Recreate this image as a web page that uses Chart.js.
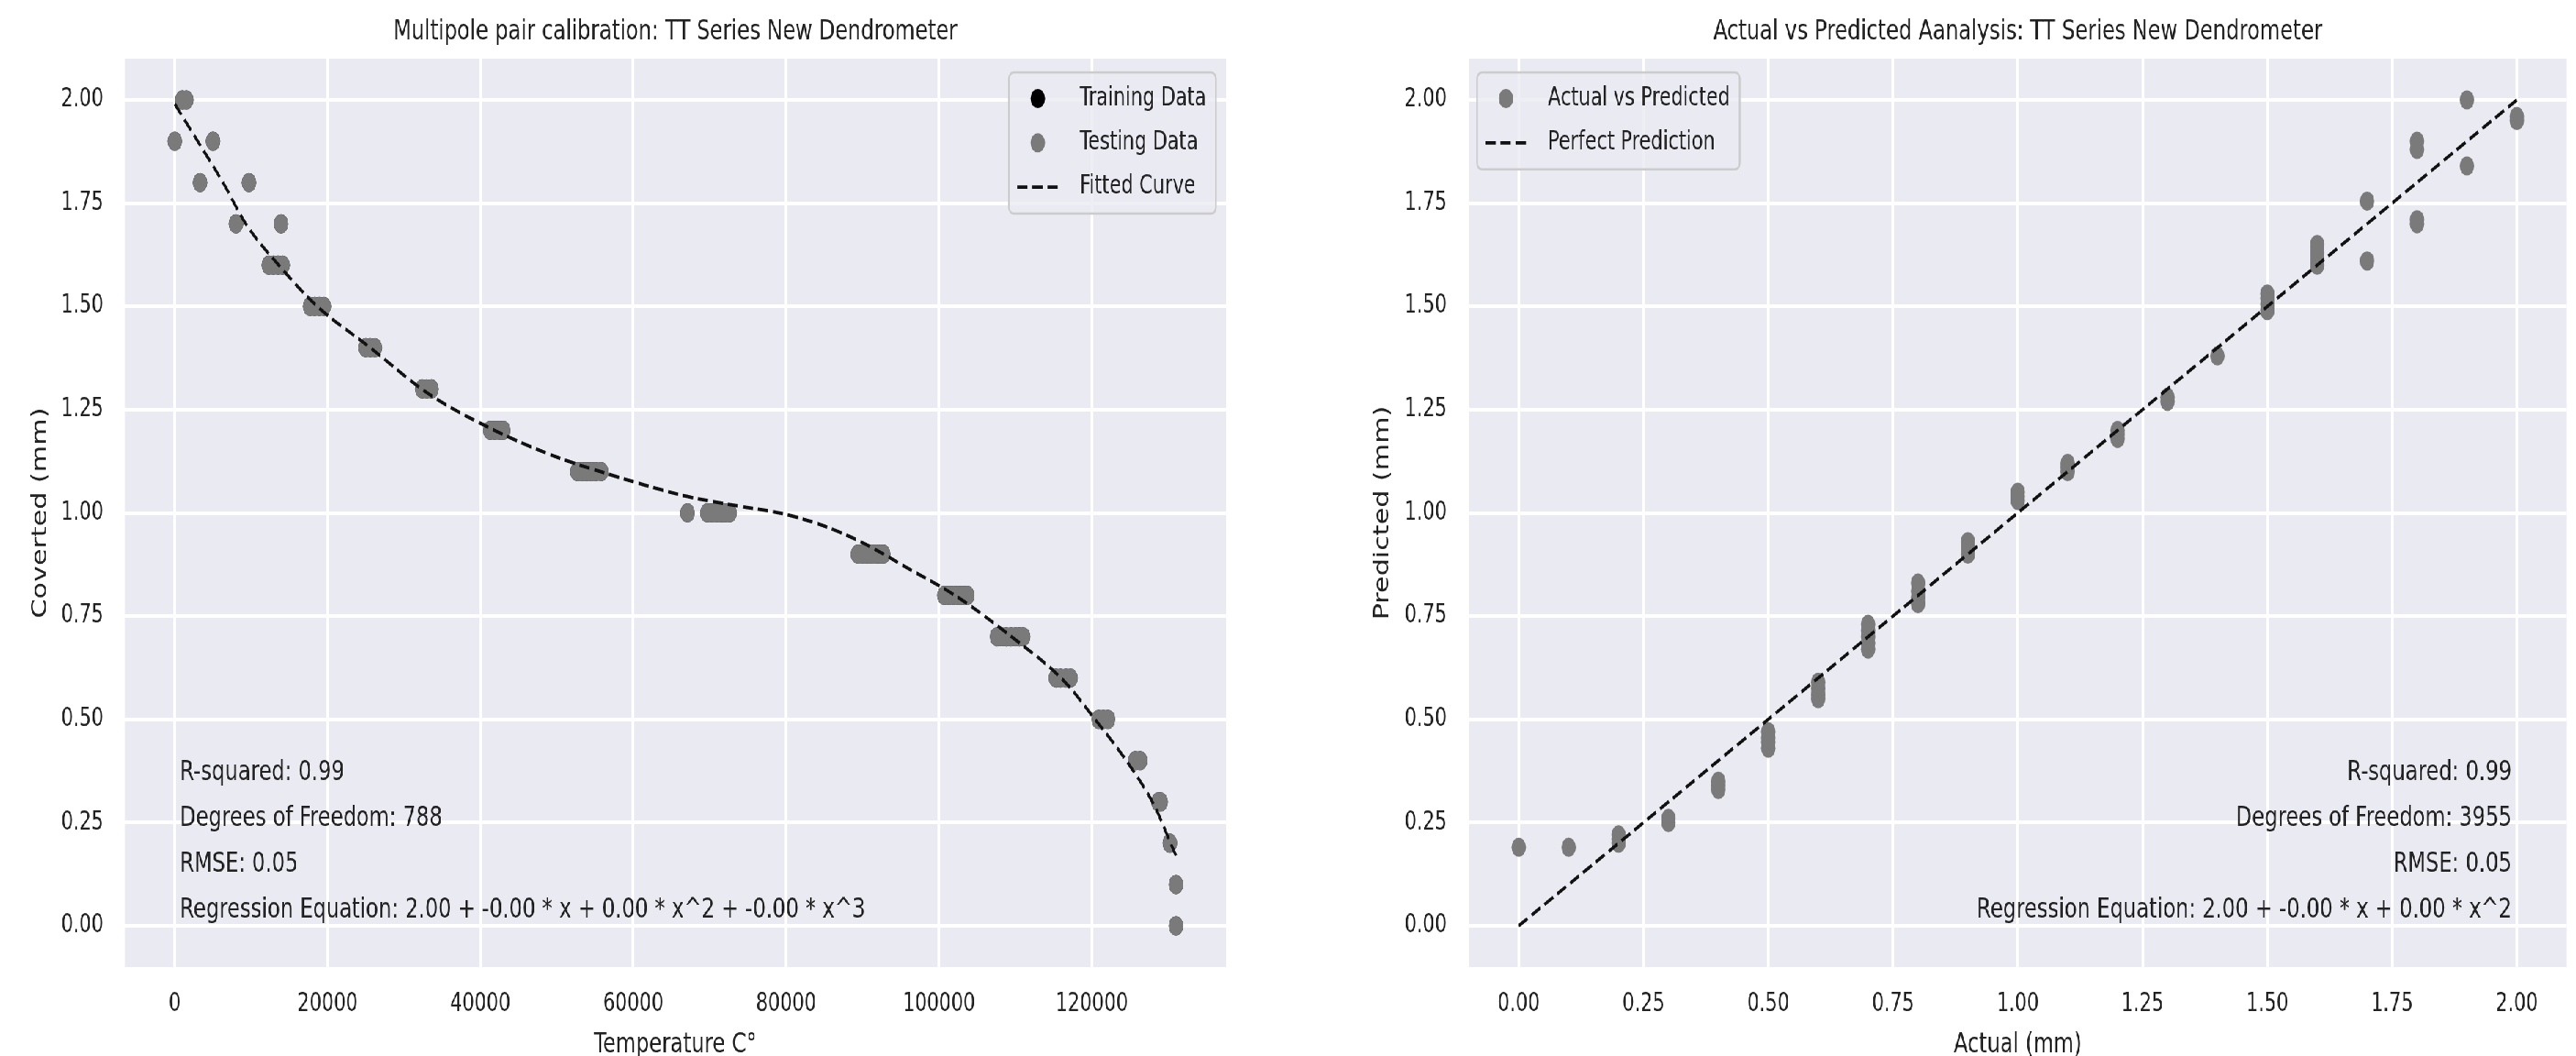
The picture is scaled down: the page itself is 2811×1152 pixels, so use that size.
<!DOCTYPE html>
<html><head><meta charset="utf-8">
<script src="https://cdn.jsdelivr.net/npm/chart.js@4.4.1/dist/chart.umd.min.js"></script>
<style>
html,body{margin:0;padding:0;background:#fff;overflow:hidden;width:2811px;height:1152px;}
#wrap{position:absolute;left:0;top:0;width:3748px;height:1152px;transform:scaleX(0.75);transform-origin:0 0;}
#c1{position:absolute;left:0;top:0;}
#c2{position:absolute;left:1866px;top:0;}
</style></head><body>
<div id="wrap"><canvas id="c1" width="1866" height="1152"></canvas><canvas id="c2" width="1882" height="1152"></canvas></div>
<script>
// ---------- DATA: left chart (calibration) ----------
const tempTicks = [0, 20000, 40000, 60000, 80000, 100000, 120000];
const mmTicks = [0, 0.25, 0.5, 0.75, 1.0, 1.25, 1.5, 1.75, 2.0];
const testTemp = [
  1000, 1500,
  0, 5000,
  3300, 9700,
  8000, 13900,
  12300, 12900, 13500, 14100,
  17700, 18300, 18900, 19500,
  25000, 25600, 26200,
  32400, 33000, 33600,
  41300, 41900, 42500, 43000,
  52700, 53300, 53900, 54500, 55100, 55800,
  67100, 69700, 70300, 70900, 71500, 72000, 72600,
  89400, 90000, 90600, 91200, 91800, 92300, 92700,
  100700, 101300, 101900, 102500, 103100, 103700,
  107600, 108200, 108800, 109400, 110000, 110500, 111000,
  115300, 115900, 116600, 117200,
  120900, 121500, 122100,
  125700, 126300,
  128700, 129000,
  130200,
  131000,
  131000
];
const testCov = [
  2.0, 2.0,
  1.9, 1.9,
  1.8, 1.8,
  1.7, 1.7,
  1.6, 1.6, 1.6, 1.6,
  1.5, 1.5, 1.5, 1.5,
  1.4, 1.4, 1.4,
  1.3, 1.3, 1.3,
  1.2, 1.2, 1.2, 1.2,
  1.1, 1.1, 1.1, 1.1, 1.1, 1.1,
  1.0, 1.0, 1.0, 1.0, 1.0, 1.0, 1.0,
  0.9, 0.9, 0.9, 0.9, 0.9, 0.9, 0.9,
  0.8, 0.8, 0.8, 0.8, 0.8, 0.8,
  0.7, 0.7, 0.7, 0.7, 0.7, 0.7, 0.7,
  0.6, 0.6, 0.6, 0.6,
  0.5, 0.5, 0.5,
  0.4, 0.4,
  0.3, 0.3,
  0.2,
  0.1,
  0.0
];
// training points lie underneath the testing points (hidden)
const trainTemp = testTemp;
const trainCov = testCov;
const fitTemp = [0, 3000, 6300, 9300, 13600, 18650, 25600, 33100, 41850, 50000, 55700, 61000, 67000, 73300, 79600, 85000, 90300, 96000, 102100, 109500, 116500, 120200, 124500, 128200, 130300, 131000];
const fitCov  = [1.99, 1.90, 1.80, 1.70, 1.60, 1.50, 1.40, 1.29, 1.20, 1.135, 1.10, 1.07, 1.04, 1.018, 0.998, 0.968, 0.925, 0.865, 0.80, 0.70, 0.59, 0.505, 0.40, 0.29, 0.20, 0.17];
const leftStats = ['R-squared: 0.99', 'Degrees of Freedom: 788', 'RMSE: 0.05', 'Regression Equation: 2.00 + -0.00 * x + 0.00 * x^2 + -0.00 * x^3'];

// ---------- DATA: right chart (actual vs predicted) ----------
const actualTicks = [0, 0.25, 0.5, 0.75, 1.0, 1.25, 1.5, 1.75, 2.0];
const actualVals = [
  0.0,
  0.1,
  0.2, 0.2, 0.2,
  0.3, 0.3,
  0.4, 0.4, 0.4,
  0.5, 0.5, 0.5, 0.5,
  0.6, 0.6, 0.6, 0.6,
  0.7, 0.7, 0.7, 0.7, 0.7,
  0.8, 0.8, 0.8, 0.8,
  0.9, 0.9, 0.9,
  1.0, 1.0, 1.0,
  1.1, 1.1, 1.1,
  1.2, 1.2, 1.2,
  1.3, 1.3,
  1.4,
  1.5, 1.5, 1.5, 1.5,
  1.6, 1.6, 1.6, 1.6,
  1.7, 1.7,
  1.8, 1.8, 1.8, 1.8,
  1.9, 1.9,
  2.0, 2.0
];
const predVals = [
  0.19,
  0.19,
  0.20, 0.21, 0.22,
  0.25, 0.26,
  0.33, 0.34, 0.35,
  0.43, 0.445, 0.455, 0.47,
  0.55, 0.56, 0.575, 0.59,
  0.67, 0.685, 0.70, 0.715, 0.73,
  0.78, 0.795, 0.81, 0.83,
  0.90, 0.915, 0.93,
  1.03, 1.04, 1.05,
  1.10, 1.11, 1.12,
  1.18, 1.19, 1.20,
  1.27, 1.28,
  1.38,
  1.49, 1.505, 1.52, 1.53,
  1.60, 1.615, 1.63, 1.65,
  1.61, 1.755,
  1.70, 1.71, 1.88, 1.90,
  1.84, 2.00,
  1.95, 1.96
];
const perfectX = [0, 2];
const perfectY = [0, 2];
const rightStats = ['R-squared: 0.99', 'Degrees of Freedom: 3955', 'RMSE: 0.05', 'Regression Equation: 2.00 + -0.00 * x + 0.00 * x^2'];

// ---------- STYLE ----------
const FONT = "'DejaVu Sans', 'Liberation Sans', sans-serif";
const TXT = '#222222';
const GRAY = '#7a7a7a';
const pairs = (xs, ys) => xs.map((x, i) => ({x: x, y: ys[i]}));
const padRange = arr => { const mn = Math.min(...arr), mx = Math.max(...arr), p = 0.05 * (mx - mn); return [mn - p, mx + p]; };

const deco = {
  id: 'deco',
  beforeDraw(chart) {
    const {ctx, chartArea: a} = chart;
    ctx.save();
    ctx.fillStyle = '#EAEAF2';
    ctx.fillRect(a.left, a.top, a.right - a.left, a.bottom - a.top);
    ctx.restore();
  },
  afterDraw(chart, args, o) {
    const {ctx, chartArea: a} = chart;
    ctx.save();
    ctx.fillStyle = TXT;
    ctx.textBaseline = 'middle';
    ctx.font = '30.2px ' + FONT;
    ctx.textAlign = 'center';
    ctx.fillText(o.title, (a.left + a.right) / 2, 35);
    // statistics text
    ctx.textAlign = o.statsAlign;
    const w = a.right - a.left;
    const sx = o.statsAlign === 'left' ? a.left + 0.05 * w : a.right - 0.05 * w;
    o.stats.forEach((t, i) => ctx.fillText(t, sx, a.bottom - 212 + i * 50));
    // legend
    ctx.font = '27.7px ' + FONT;
    const items = chart.data.datasets.map(d => ({label: d.label, line: !!d.showLine, color: d.showLine ? d.borderColor : d.backgroundColor, dash: d.borderDash || [], lw: d.borderWidth, r: d.pointRadius}));
    const tw = Math.max(...items.map(it => ctx.measureText(it.label).width));
    const bw = 103 + tw + 14, bh = 28.5 + (items.length - 1) * 48.3 + 29;
    const bx = o.legendSide === 'right' ? a.right - 14.7 - bw : a.left + 12;
    const by = a.top + 15;
    ctx.beginPath();
    ctx.roundRect(bx, by, bw, bh, 7);
    ctx.fillStyle = 'rgba(234,234,242,0.8)';
    ctx.fill();
    ctx.lineWidth = 2.5;
    ctx.strokeStyle = '#cccccc';
    ctx.stroke();
    items.forEach((it, i) => {
      const y = by + 28.5 + i * 48.3;
      if (it.line) {
        ctx.strokeStyle = it.color; ctx.lineWidth = it.lw; ctx.setLineDash(it.dash);
        ctx.beginPath(); ctx.moveTo(bx + 12, y); ctx.lineTo(bx + 72, y); ctx.stroke();
        ctx.setLineDash([]);
      } else {
        ctx.fillStyle = it.color;
        ctx.beginPath(); ctx.arc(bx + 42, y, it.r, 0, 2 * Math.PI); ctx.fill();
      }
      ctx.fillStyle = TXT; ctx.textAlign = 'left';
      ctx.fillText(it.label, bx + 103, y);
    });
    ctx.restore();
  }
};

function scales(xr, xTicks, xFmt, xTitle, yAxisW, yTickPad, yTitle, yTitlePad) {
  const yr = [-0.1, 2.1];
  return {
    x: {
      type: 'linear', min: xr[0], max: xr[1],
      grid: {color: '#ffffff', lineWidth: 4, drawTicks: false},
      border: {display: false},
      ticks: {font: {family: FONT, size: 27.7}, color: TXT, padding: 24, maxRotation: 0, callback: xFmt},
      afterBuildTicks: s => { s.ticks = xTicks.map(v => ({value: v})); },
      afterFit: s => { s.height = 97; },
      title: {display: true, text: xTitle, color: TXT, font: {family: FONT, size: 30.2, lineHeight: 0.8}, padding: {top: 0, bottom: 0}}
    },
    y: {
      type: 'linear', min: yr[0], max: yr[1],
      grid: {color: '#ffffff', lineWidth: 4, drawTicks: false},
      border: {display: false},
      ticks: {font: {family: FONT, size: 27.7}, color: TXT, padding: yTickPad, callback: v => Number(v).toFixed(2)},
      afterBuildTicks: s => { s.ticks = mmTicks.map(v => ({value: v})); },
      afterFit: s => { s.width = yAxisW; },
      title: {display: true, text: yTitle, color: TXT, font: {family: FONT, size: 30.2, lineHeight: 1.2}, padding: {top: yTitlePad, bottom: 0}}
    }
  };
}

const common = {responsive: false, animation: false, devicePixelRatio: 1, events: []};

new Chart(document.getElementById('c1'), {
  type: 'scatter',
  data: {datasets: [
    {label: 'Training Data', data: pairs(trainTemp, trainCov), backgroundColor: '#000000', borderWidth: 0, pointRadius: 10.5, order: 2},
    {label: 'Testing Data', data: pairs(testTemp, testCov), backgroundColor: GRAY, borderWidth: 0, pointRadius: 10.5, order: 1},
    {label: 'Fitted Curve', data: pairs(fitTemp, fitCov), showLine: true, borderColor: '#111111', borderWidth: 3.8, borderDash: [15, 7], pointRadius: 0, cubicInterpolationMode: 'monotone', fill: false, order: 0}
  ]},
  options: Object.assign({}, common, {
    layout: {padding: {top: 64, right: 82, bottom: 0, left: 0}},
    scales: scales(padRange(testTemp.concat(fitTemp)), tempTicks, v => String(v), 'Temperature C°', 181.33, 31, 'Coverted (mm)', 41.4),
    plugins: {legend: {display: false}, tooltip: {enabled: false},
      deco: {title: 'Multipole pair calibration: TT Series New Dendrometer', stats: leftStats, statsAlign: 'left', legendSide: 'right'}}
  }),
  plugins: [deco]
});

new Chart(document.getElementById('c2'), {
  type: 'scatter',
  data: {datasets: [
    {label: 'Actual vs Predicted', data: pairs(actualVals, predVals), backgroundColor: GRAY, borderWidth: 0, pointRadius: 10.5, order: 1},
    {label: 'Perfect Prediction', data: pairs(perfectX, perfectY), showLine: true, borderColor: '#111111', borderWidth: 3.8, borderDash: [15, 7], pointRadius: 0, fill: false, order: 0}
  ]},
  options: Object.assign({}, common, {
    layout: {padding: {top: 64, right: 13.3, bottom: 0, left: 0}},
    scales: scales(padRange(actualVals.concat(perfectX)), actualTicks, v => Number(v).toFixed(2), 'Actual (mm)', 271.3, 32, 'Predicted (mm)', 128),
    plugins: {legend: {display: false}, tooltip: {enabled: false},
      deco: {title: 'Actual vs Predicted Aanalysis: TT Series New Dendrometer', stats: rightStats, statsAlign: 'right', legendSide: 'left'}}
  }),
  plugins: [deco]
});
</script>
</body></html>
